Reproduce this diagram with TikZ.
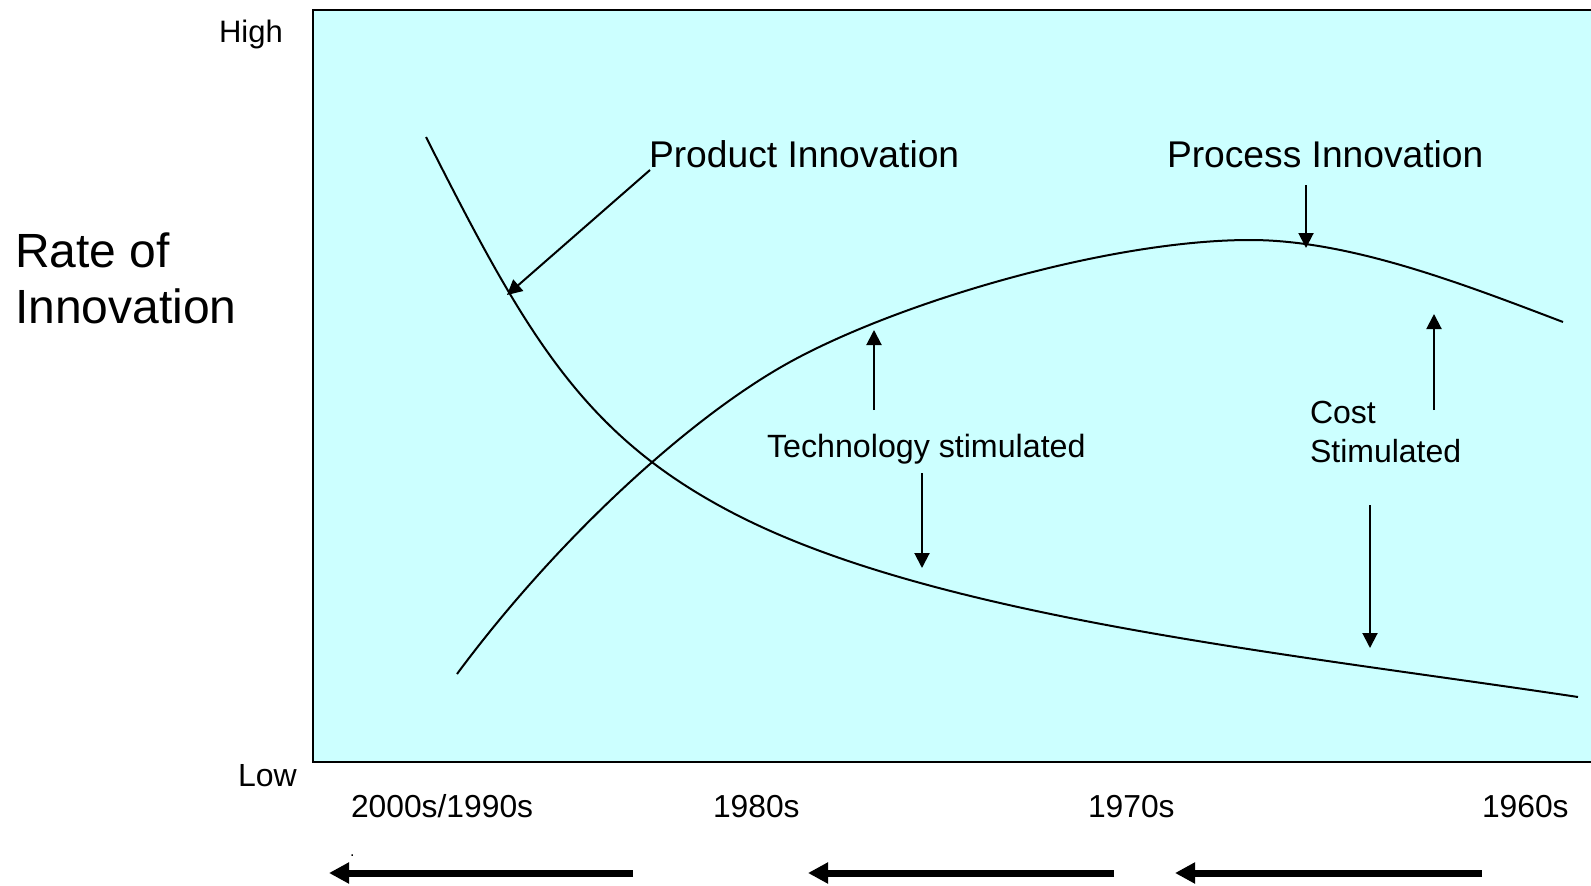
\documentclass[tikz,border=0pt]{standalone}
\usepackage{fontspec}
\setmainfont{Liberation Sans}
\usetikzlibrary{arrows.meta}
\definecolor{boxfill}{HTML}{CCFFFF}
\tikzset{
  lbl/.style={anchor=base west, inner sep=0pt, outer sep=0pt, text=black},
  curve/.style={line width=2pt, black},
  thinarrow/.style={line width=2pt, -{Triangle[length=15pt,width=15pt]}},
  thickarrow/.style={line width=7pt, -{Triangle[length=20pt,width=20pt]}}
}
\begin{document}
\begin{tikzpicture}[x=1pt,y=-1pt]
\useasboundingbox (0,0) rectangle (1591,886);
% plot box
\draw[line width=2pt, fill=boxfill] (313,9.5) rectangle (1620,762);
% product innovation curve
\draw[curve] (426,137) .. controls (526,335) and (583,435) .. (733,513)
                       .. controls (933,617) and (1278,652) .. (1578,697);
% process innovation curve
\draw[curve] (457,674) .. controls (557,539) and (690,417) .. (790,362)
                       .. controls (900,301.5) and (1110,240) .. (1250,240)
                       .. controls (1350,240) and (1463,284) .. (1563,322);
% axis labels
\node[lbl, font=\fontsize{31}{34}\selectfont] (high) at (219,42) {High};
\node[lbl, font=\fontsize{32}{34}\selectfont] (low) at (238,786) {Low};
\node[lbl, font=\fontsize{48}{56}\selectfont] (rate) at (15,267) {Rate of};
\node[lbl, font=\fontsize{48}{56}\selectfont] (innov) at (15,323) {Innovation};
% curve labels
\node[lbl, font=\fontsize{37.2}{40}\selectfont] (prod) at (649,167) {Product Innovation};
\node[lbl, font=\fontsize{37.2}{40}\selectfont] (proc) at (1167,167) {Process Innovation};
\node[lbl, font=\fontsize{32.2}{36}\selectfont] (tech) at (767,457) {Technology stimulated};
\node[lbl, font=\fontsize{32}{36}\selectfont] (cost) at (1310,423) {Cost};
\node[lbl, font=\fontsize{32}{36}\selectfont] (stim) at (1310,462) {Stimulated};
% decade labels
\node[lbl, font=\fontsize{31.8}{36}\selectfont] (d2000) at (351,817) {2000s/1990s};
\node[lbl, font=\fontsize{31.8}{36}\selectfont] (d1980) at (713,817) {1980s};
\node[lbl, font=\fontsize{31.8}{36}\selectfont] (d1970) at (1088,817) {1970s};
\node[lbl, font=\fontsize{31.8}{36}\selectfont] (d1960) at (1482,817) {1960s};
\node[lbl, font=\fontsize{16}{18}\selectfont] (dot) at (350,856) {.};
% arrow end points
\coordinate (pa1) at (650,170);  \coordinate (pa2) at (507,295);
\coordinate (tu1) at (874,410);  \coordinate (tu2) at (874,330);
\coordinate (td1) at (922,473);  \coordinate (td2) at (922,568);
\coordinate (pd1) at (1306,185); \coordinate (pd2) at (1306,248);
\coordinate (cu1) at (1434,410); \coordinate (cu2) at (1434,314);
\coordinate (cd1) at (1370,505); \coordinate (cd2) at (1370,648);
\coordinate (ba1) at (633,873);  \coordinate (ba2) at (329,873);
\coordinate (bb1) at (1114,873); \coordinate (bb2) at (808,873);
\coordinate (bc1) at (1482,873); \coordinate (bc2) at (1175,873);
% thin arrows
\draw[thinarrow] (pa1) -- (pa2);
\draw[thinarrow] (tu1) -- (tu2);
\draw[thinarrow] (td1) -- (td2);
\draw[thinarrow] (pd1) -- (pd2);
\draw[thinarrow] (cu1) -- (cu2);
\draw[thinarrow] (cd1) -- (cd2);
% thick time arrows
\draw[thickarrow] (ba1) -- (ba2);
\draw[thickarrow] (bb1) -- (bb2);
\draw[thickarrow] (bc1) -- (bc2);
\end{tikzpicture}
\end{document}
